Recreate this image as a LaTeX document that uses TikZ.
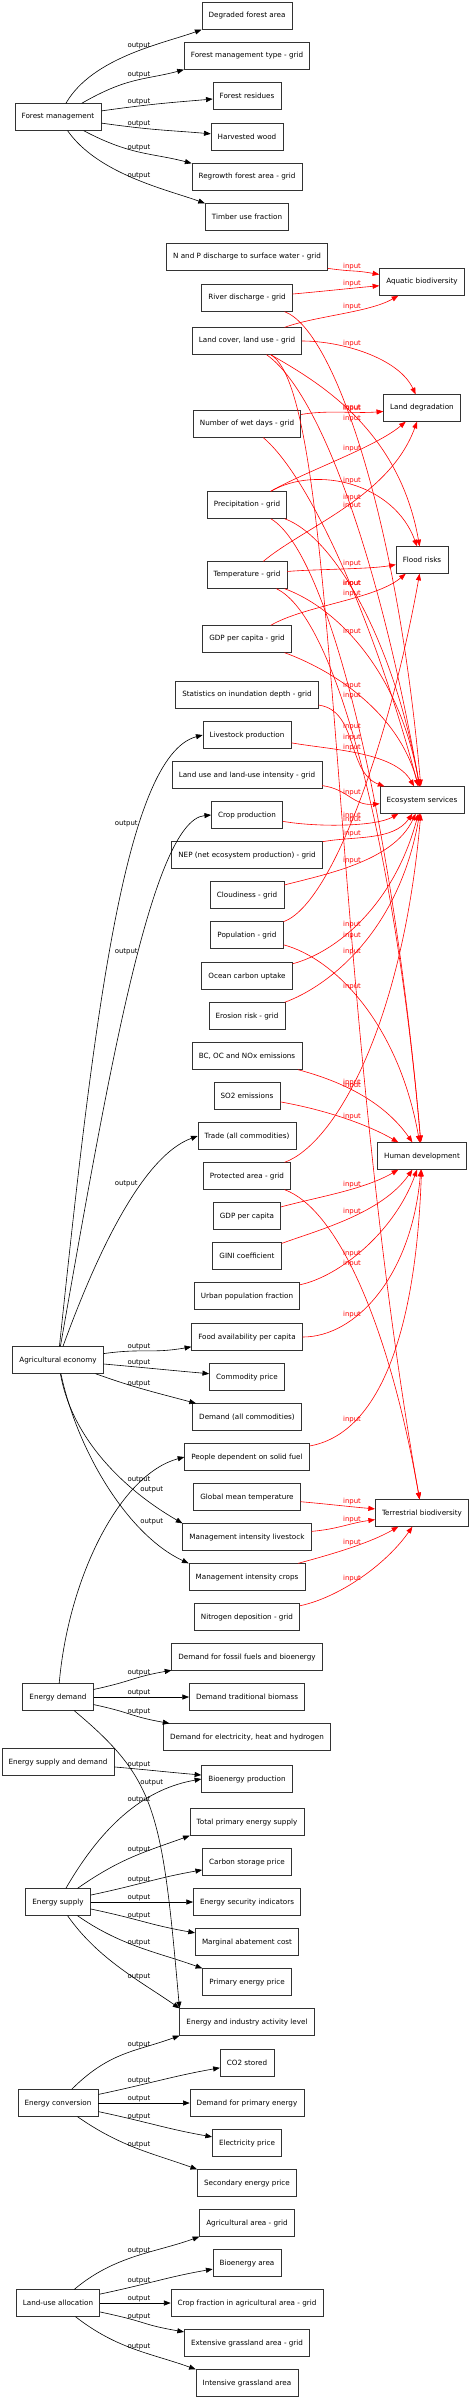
\documentclass[tikz,border=0pt]{standalone}
\usepackage{fontspec}
\setmainfont{DejaVu Sans}
\usetikzlibrary{arrows.meta,intersections}
\newcommand\boxtext{\fontsize{5.4}{6.5}\selectfont}
\newcommand\edgetext{\fontsize{5.2}{6}\selectfont}
\tikzset{
  box/.style={draw=black!80, line width=0.5pt, minimum height=20pt, inner xsep=5pt, font=\boxtext},
  headtip/.style={-{Triangle[length=5pt,width=3.8pt]}},
  outlink/.style={headtip, draw=black, line width=0.45pt},
  inlink/.style={headtip, draw=red, line width=0.45pt},
  outlabel/.style={font=\edgetext, inner sep=0.8pt},
  inlabel/.style={font=\edgetext, text=red, inner sep=0.8pt, above},
}
\begin{document}
\begin{tikzpicture}[x=0.75pt,y=0.75pt]
\fill[white] (0,0) rectangle (472,-2400);
\useasboundingbox (0,0) rectangle (472,-2400);
% models
\node[box] (forest) at (58,-117) {Forest management};
\node[box] (agrecon) at (58,-1360) {Agricultural economy};
\node[box] (edemand) at (58,-1697) {Energy demand};
\node[box] (esd) at (58,-1762) {Energy supply and demand};
\node[box] (esupply) at (58,-1902) {Energy supply};
\node[box] (econv) at (58,-2103) {Energy conversion};
\node[box] (landuse) at (58,-2303) {Land-use allocation};
% variables
\node[box] (degraded) at (247,-16) {Degraded forest area};
\node[box] (fmtype) at (247,-56) {Forest management type - grid};
\node[box] (residues) at (247,-96) {Forest residues};
\node[box] (harvested) at (247,-137) {Harvested wood};
\node[box] (regrowth) at (247,-177) {Regrowth forest area - grid};
\node[box] (timber) at (247,-217) {Timber use fraction};
\node[box] (npdis) at (247,-257) {N and P discharge to surface water - grid};
\node[box] (river) at (247,-298) {River discharge - grid};
\node[box] (lclu) at (247,-341) {Land cover, land use - grid};
\node[box] (wetdays) at (247,-424) {Number of wet days - grid};
\node[box] (precip) at (247,-505) {Precipitation - grid};
\node[box] (temp) at (247,-575) {Temperature - grid};
\node[box] (gdpgrid) at (247,-639) {GDP per capita - grid};
\node[box] (inund) at (247,-695) {Statistics on inundation depth - grid};
\node[box] (livestock) at (247,-735) {Livestock production};
\node[box] (luint) at (247,-775) {Land use and land-use intensity - grid};
\node[box] (crop) at (247,-815) {Crop production};
\node[box] (nep) at (247,-855) {NEP (net ecosystem production) - grid};
\node[box] (cloud) at (247,-895) {Cloudiness - grid};
\node[box] (popgrid) at (247,-935) {Population - grid};
\node[box] (ocean) at (247,-976) {Ocean carbon uptake};
\node[box] (erosion) at (247,-1016) {Erosion risk - grid};
\node[box] (bcoc) at (247,-1056) {BC, OC and NOx emissions};
\node[box] (so2) at (247,-1096) {SO2 emissions};
\node[box] (trade) at (247,-1136) {Trade (all commodities)};
\node[box] (protect) at (247,-1176) {Protected area - grid};
\node[box] (gdppc) at (247,-1216) {GDP per capita};
\node[box] (gini) at (247,-1256) {GINI coefficient};
\node[box] (urban) at (247,-1296) {Urban population fraction};
\node[box] (food) at (247,-1337) {Food availability per capita};
\node[box] (commodity) at (247,-1377) {Commodity price};
\node[box] (demand) at (247,-1417) {Demand (all commodities)};
\node[box] (solidfuel) at (247,-1457) {People dependent on solid fuel};
\node[box] (gmt) at (247,-1497) {Global mean temperature};
\node[box] (milive) at (247,-1537) {Management intensity livestock};
\node[box] (microp) at (247,-1577) {Management intensity crops};
\node[box] (ndep) at (247,-1617) {Nitrogen deposition - grid};
\node[box] (dfossil) at (247,-1657) {Demand for fossil fuels and bioenergy};
\node[box] (dtrad) at (247,-1697) {Demand traditional biomass};
\node[box] (delec) at (247,-1737) {Demand for electricity, heat and hydrogen};
\node[box] (bioprod) at (247,-1779) {Bioenergy production};
\node[box] (tpes) at (247,-1822) {Total primary energy supply};
\node[box] (cstore) at (247,-1862) {Carbon storage price};
\node[box] (esec) at (247,-1902) {Energy security indicators};
\node[box] (mac) at (247,-1942) {Marginal abatement cost};
\node[box] (peprice) at (247,-1982) {Primary energy price};
\node[box] (eia) at (247,-2022) {Energy and industry activity level};
\node[box] (co2) at (247,-2063) {CO2 stored};
\node[box] (dprim) at (247,-2103) {Demand for primary energy};
\node[box] (elprice) at (247,-2143) {Electricity price};
\node[box] (seprice) at (247,-2183) {Secondary energy price};
\node[box] (agriarea) at (247,-2223) {Agricultural area - grid};
\node[box] (bioarea) at (247,-2263) {Bioenergy area};
\node[box] (cropfrac) at (247,-2303) {Crop fraction in agricultural area - grid};
\node[box] (extgrass) at (247,-2343) {Extensive grassland area - grid};
\node[box] (intgrass) at (247,-2383) {Intensive grassland area};
% indicators
\node[box] (aquatic) at (422,-282) {Aquatic biodiversity};
\node[box] (landdeg) at (422,-408) {Land degradation};
\node[box] (flood) at (422,-560) {Flood risks};
\node[box] (ecoserv) at (422,-800) {Ecosystem services};
\node[box] (humdev) at (422,-1156) {Human development};
\node[box] (terrbio) at (422,-1513) {Terrestrial biodiversity};

% label columns
\path[name path=blackcut] (139,0) -- (139,-2400);
\path[name path=redcut] (352,0) -- (352,-2400);

% outputs
\foreach \s/\t/\a/\b/\od/\id/\w in {
  forest/degraded.south west/60/200/40pt/30pt/above,
  forest/fmtype.south west/30/195/40pt/30pt/above,
  forest/residues/8/185/40pt/30pt/above,
  forest/harvested/-8/175/40pt/30pt/above,
  forest/regrowth.north west/-28/165/40pt/30pt/above,
  forest/timber.north west/-55/160/40pt/30pt/above,
  agrecon/livestock.west/84/195/250pt/60pt/above left,
  agrecon/crop.west/80/185/200pt/45pt/left,
  agrecon/trade.west/70/200/70pt/45pt/above left,
  agrecon/food/8/190/30pt/30pt/above,
  agrecon/commodity/-5/175/30pt/30pt/above,
  agrecon/demand/-20/165/30pt/30pt/above,
  agrecon/milive.north west/-80/150/50pt/50pt/above right,
  agrecon/microp.north west/-78/155/60pt/50pt/above right,
  edemand/solidfuel.west/85/195/80pt/50pt/above,
  edemand/dfossil/12/190/30pt/30pt/above,
  edemand/dtrad/0/180/30pt/30pt/above,
  edemand/delec/-12/170/30pt/30pt/above,
  edemand/eia.north west/-40/95/80pt/150pt/right,
  esd/bioprod/-5/175/30pt/30pt/above,
  esupply/bioprod.west/60/190/60pt/40pt/above,
  esupply/tpes.south west/35/200/40pt/35pt/above,
  esupply/cstore/12/190/40pt/35pt/above,
  esupply/esec/0/180/40pt/35pt/above,
  esupply/mac/-12/170/40pt/35pt/above,
  esupply/peprice.north west/-35/160/40pt/35pt/above,
  esupply/eia.north west/-55/145/40pt/35pt/above,
  econv/eia.south west/45/200/40pt/35pt/above,
  econv/co2/12/190/40pt/35pt/above,
  econv/dprim/0/180/40pt/35pt/above,
  econv/elprice/-12/170/40pt/35pt/above,
  econv/seprice.north west/-35/160/40pt/35pt/above,
  landuse/agriarea.south west/40/200/40pt/35pt/above,
  landuse/bioarea/12/190/40pt/35pt/above,
  landuse/cropfrac/0/180/40pt/35pt/above,
  landuse/extgrass/-12/170/40pt/35pt/above,
  landuse/intgrass.north west/-38/160/40pt/35pt/above}{
  \draw[outlink, name path=link] (\s) to[out=\a,in=\b,out distance=\od,in distance=\id] (\t);
  \path[name intersections={of=link and blackcut,by=m}] (m) node[outlabel,\w] {output};
}

% inputs
\foreach \s/\t/\o/\i/\od/\id in {
  npdis/aquatic/-8/170/20pt/20pt,
  river/aquatic/5/185/20pt/20pt,
  lclu/aquatic/20/-150/25pt/25pt,
  lclu/landdeg/0/115/30pt/30pt,
  wetdays/landdeg/10/185/20pt/20pt,
  precip/landdeg/30/-140/30pt/30pt,
  temp/landdeg/40/-110/40pt/60pt,
  lclu/flood/-30/100/40pt/90pt,
  precip/flood/30/110/40pt/50pt,
  temp/flood/5/190/20pt/20pt,
  gdpgrid/flood/30/-140/30pt/30pt,
  popgrid/flood/20/-100/40pt/120pt,
  river/ecoserv/-20/95/40pt/200pt,
  lclu/ecoserv/-35/100/50pt/170pt,
  wetdays/ecoserv/-40/105/45pt/130pt,
  precip/ecoserv/-20/100/40pt/110pt,
  temp/ecoserv/-20/100/40pt/90pt,
  gdpgrid/ecoserv/-20/105/35pt/60pt,
  inund/ecoserv/-8/160/30pt/30pt,
  livestock/ecoserv/-10/120/30pt/30pt,
  luint/ecoserv/-8/185/20pt/20pt,
  crop/ecoserv/-10/-150/25pt/20pt,
  nep/ecoserv/10/-125/25pt/25pt,
  cloud/ecoserv/15/-115/30pt/40pt,
  ocean/ecoserv/15/-105/35pt/70pt,
  erosion/ecoserv/20/-100/35pt/90pt,
  protect/ecoserv/20/-95/40pt/160pt,
  precip/humdev/-30/95/50pt/250pt,
  temp/humdev/-25/95/50pt/220pt,
  popgrid/humdev/-15/100/40pt/90pt,
  bcoc/humdev/-15/125/30pt/40pt,
  so2/humdev/-10/150/30pt/30pt,
  gdppc/humdev/15/-150/30pt/30pt,
  gini/humdev/20/-125/30pt/40pt,
  urban/humdev/12/-110/30pt/50pt,
  food/humdev/0/-95/40pt/80pt,
  solidfuel/humdev/10/-92/50pt/130pt,
  lclu/terrbio/-30/100/60pt/400pt,
  protect/terrbio/-20/100/40pt/140pt,
  gmt/terrbio/-5/175/20pt/20pt,
  milive/terrbio/5/188/20pt/20pt,
  microp/terrbio/15/-150/25pt/25pt,
  ndep/terrbio/12/-125/30pt/35pt}{
  \draw[inlink, name path=link] (\s) to[out=\o,in=\i,out distance=\od,in distance=\id] (\t);
  \path[name intersections={of=link and redcut,by=m}] (m) node[inlabel] {input};
}
\end{tikzpicture}
\end{document}
